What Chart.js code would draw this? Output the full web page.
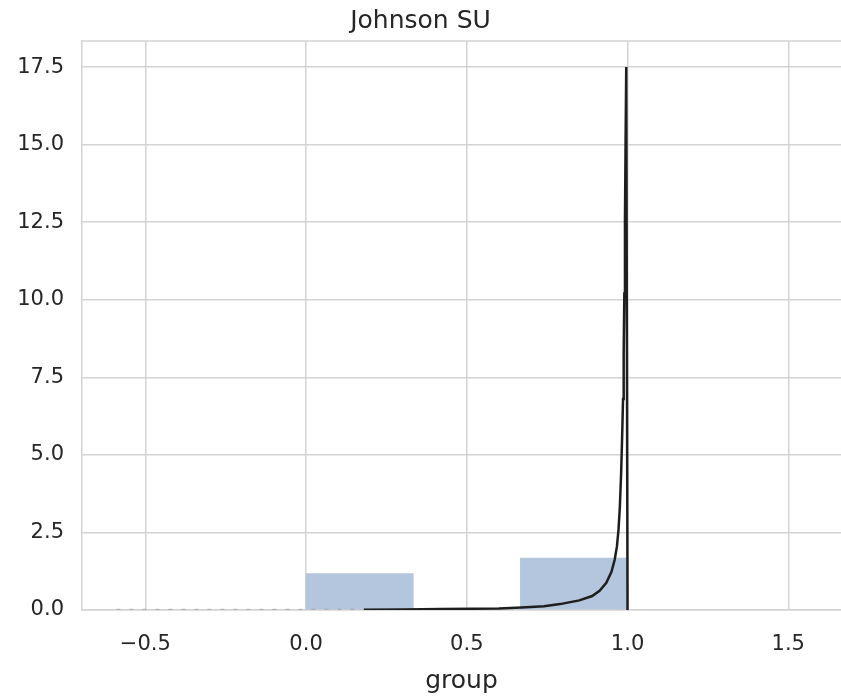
<!DOCTYPE html>
<html>
<head>
<meta charset="utf-8">
<script src="https://cdn.jsdelivr.net/npm/chart.js@4/dist/chart.umd.min.js"></script>
<style>
  html, body { margin: 0; padding: 0; background: #ffffff; }
  #wrap { width: 841px; height: 698px; }
</style>
</head>
<body>
<div id="wrap"><canvas id="c" width="841" height="698"></canvas></div>
<script>
// ---- data ----
const chartTitle = "Johnson SU";
const xAxisLabel = "group";

// histogram bin edges and densities
const binEdges = [0, 1/3, 2/3, 1];
const binDensity = [1.17, 0, 1.67];

// fitted Johnson SU pdf (black line)
const fitX = [0.18, 0.30, 0.42, 0.52, 0.60, 0.67, 0.74, 0.79, 0.85, 0.89, 0.913, 0.934, 0.95, 0.96, 0.967, 0.972, 0.976, 0.98, 0.983, 0.986, 0.988, 0.990, 0.992, 0.994, 0.996, 1.0];
const fitY = [0.01, 0.02, 0.03, 0.04, 0.05, 0.08, 0.12, 0.19, 0.31, 0.45, 0.62, 0.88, 1.23, 1.62, 2.05, 2.6, 3.3, 4.4, 5.5, 6.8, 8.3, 10.2, 12.6, 15.2, 17.5, 0.0];

// faint grey trace near zero
const faintX = [-0.59, 0.20];
const faintY = [0.02, 0.02];

// tick values
const xTicks = [-0.5, 0.0, 0.5, 1.0, 1.5];
const yTicks = [0, 2.5, 5, 7.5, 10, 12.5, 15, 17.5];

// ---- build datasets ----
const barData = binDensity.map((d, i) => ({ x: (binEdges[i] + binEdges[i + 1]) / 2, y: d }));
const fitData = fitX.map((x, i) => ({ x: x, y: fitY[i] }));
const faintData = faintX.map((x, i) => ({ x: x, y: faintY[i] }));

const gridColor = '#d3d3d3';
const textColor = '#262626';
const fontFamily = "'DejaVu Sans', sans-serif";

const frameTop = {
  id: 'frameTop',
  afterDraw(chart) {
    const a = chart.chartArea;
    const ctx = chart.ctx;
    ctx.save();
    ctx.strokeStyle = gridColor;
    ctx.lineWidth = 1.5;
    ctx.beginPath();
    ctx.moveTo(a.left, a.top);
    ctx.lineTo(a.right, a.top);
    ctx.stroke();
    ctx.restore();
  }
};

new Chart(document.getElementById('c'), {
  data: {
    datasets: [
      {
        type: 'scatter',
        data: fitData,
        showLine: true,
        borderColor: '#1e1e1e',
        borderWidth: 2.5,
        pointRadius: 0,
        tension: 0,
        order: 0
      },
      {
        type: 'scatter',
        data: faintData,
        showLine: true,
        borderColor: 'rgba(150,150,150,0.55)',
        borderWidth: 1.5,
        borderDash: [4, 9],
        pointRadius: 0,
        order: 1
      },
      {
        type: 'bar',
        data: barData,
        backgroundColor: 'rgb(180,197,222)',
        borderWidth: 0,
        barPercentage: 1.0,
        categoryPercentage: 1.0,
        order: 2
      }
    ]
  },
  options: {
    responsive: false,
    animation: false,
    layout: { padding: { left: 0, right: 0, top: 0, bottom: 0 } },
    plugins: {
      legend: { display: false },
      tooltip: { enabled: false },
      title: {
        display: true,
        text: chartTitle,
        color: textColor,
        font: { family: fontFamily, size: 25, weight: 'normal', lineHeight: 1.2 },
        padding: { top: 6, bottom: 5 }
      }
    },
    scales: {
      x: {
        type: 'linear',
        min: -0.697,
        max: 1.664,
        offset: false,
        afterBuildTicks(scale) { scale.ticks = xTicks.map(v => ({ value: v })); },
        ticks: {
          includeBounds: false,
          color: textColor,
          font: { family: fontFamily, size: 21 },
          padding: 22,
          maxRotation: 0,
          callback: v => (v < 0 ? '\u2212' : '') + Math.abs(v).toFixed(1)
        },
        grid: { color: gridColor, lineWidth: 1.5, drawTicks: false, offset: false },
        border: { color: gridColor, width: 1.5 },
        title: {
          display: true,
          text: xAxisLabel,
          color: textColor,
          font: { family: fontFamily, size: 25 },
          padding: { top: 4, bottom: 2 }
        },
        afterFit(scale) { scale.height = 88; }
      },
      y: {
        type: 'linear',
        min: 0,
        max: 18.34,
        afterBuildTicks(scale) { scale.ticks = yTicks.map(v => ({ value: v })); },
        ticks: {
          includeBounds: false,
          color: textColor,
          font: { family: fontFamily, size: 21 },
          padding: 18,
          callback: v => v.toFixed(1)
        },
        grid: { color: gridColor, lineWidth: 1.5, drawTicks: false },
        border: { color: gridColor, width: 1.5 },
        afterFit(scale) { scale.width = 82; }
      }
    }
  },
  plugins: [frameTop]
});
</script>
</body>
</html>
